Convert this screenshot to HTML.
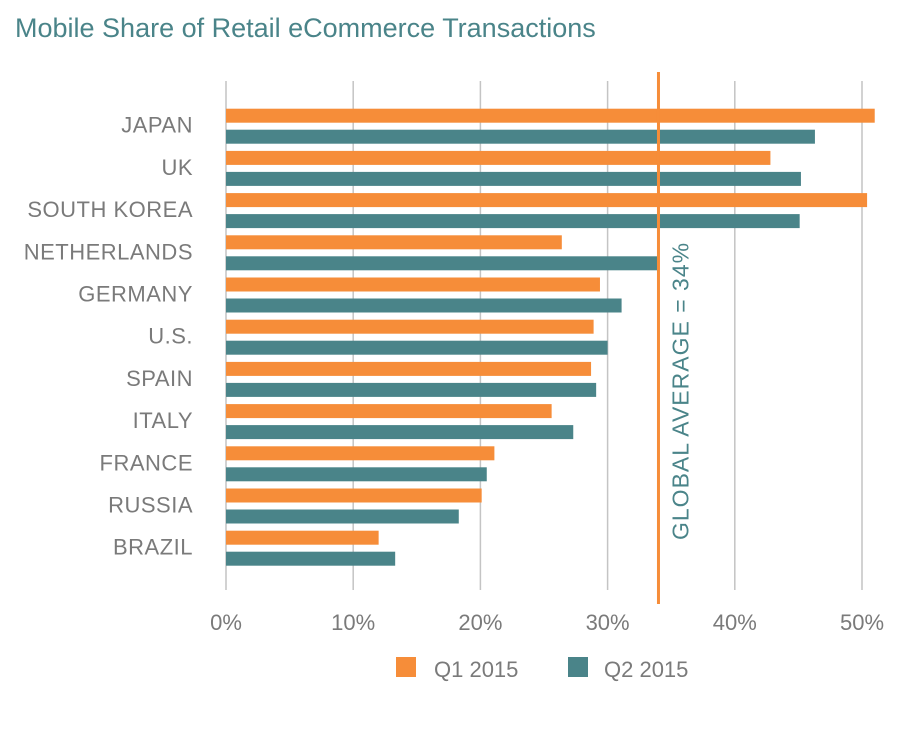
<!DOCTYPE html>
<html><head><meta charset="utf-8">
<style>
html,body{margin:0;padding:0;background:#fff;}
body{width:902px;height:726px;overflow:hidden;font-family:"Liberation Sans",sans-serif;}
svg text{font-family:"Liberation Sans",sans-serif;}
</style></head>
<body>
<svg id="chart" width="902" height="726" xmlns="http://www.w3.org/2000/svg">
<text x="15" y="37" font-size="27" fill="#4a8489">Mobile Share of Retail eCommerce Transactions</text>
<g id="grid"></g><g id="bars"></g><g id="labels"></g><g id="ticks"></g>
<line x1="0" x2="0" y1="72" y2="604" stroke="#f68d39" stroke-width="3" id="avg"/>
<text id="avgtext" font-size="23" fill="#4a8489" letter-spacing="1">GLOBAL AVERAGE = 34%</text>
<rect x="396" y="657" width="20" height="20" fill="#f68d39"/>
<text x="434" y="677" font-size="22" fill="#7a7a7a">Q1 2015</text>
<rect x="568" y="657" width="20" height="20" fill="#4a8489"/>
<text x="604" y="677" font-size="22" fill="#7a7a7a">Q2 2015</text>
</svg>
<script>
const categories=["JAPAN","UK","SOUTH KOREA","NETHERLANDS","GERMANY","U.S.","SPAIN","ITALY","FRANCE","RUSSIA","BRAZIL"];
const q1=[51,42.8,50.4,26.4,29.4,28.9,28.7,25.6,21.1,20.1,12];
const q2=[46.3,45.2,45.1,34,31.1,30,29.1,27.3,20.5,18.3,13.3];
const tickValues=[0,10,20,30,40,50];
const tickLabels=["0%","10%","20%","30%","40%","50%"];
const globalAverage=34;
const NS="http://www.w3.org/2000/svg";
const x=v=>226+v*12.72;
const rowY=i=>108.7+i*42.2;
function mk(tag,attrs,parent){const e=document.createElementNS(NS,tag);for(const k in attrs)e.setAttribute(k,attrs[k]);parent.appendChild(e);return e;}
const grid=document.getElementById('grid'),bars=document.getElementById('bars'),labels=document.getElementById('labels'),ticks=document.getElementById('ticks');
tickValues.forEach((v,i)=>{
  const l=mk('line',{x1:x(v),x2:x(v),y1:81,y2:590,stroke:'#c4c4c4','stroke-width':1.5},grid);
  
  
  const t=mk('text',{x:x(v),y:630,'text-anchor':'middle','font-size':22,fill:'#7a7a7a'},ticks);
  
  
  t.textContent=tickLabels[i];
});
categories.forEach((c,i)=>{
  const y=rowY(i);
  const b1=mk('rect',{x:x(0),y:y,width:x(q1[i])-x(0),height:14,fill:'#f68d39'},bars);
  
  
  const b2=mk('rect',{x:x(0),y:y+21,width:x(q2[i])-x(0),height:14,fill:'#4a8489'},bars);
  
  
  const t=mk('text',{x:193,y:y+24,'text-anchor':'end','font-size':22,fill:'#7a7a7a','letter-spacing':'0.5'},labels);
  
  
  t.textContent=c;
});
const ax=x(globalAverage);
const avg=document.getElementById('avg');avg.setAttribute('x1',ax);avg.setAttribute('x2',ax);
const at=document.getElementById('avgtext');
at.setAttribute('transform','translate('+(ax+30)+',540) rotate(-90)');
</script>
</body></html>
